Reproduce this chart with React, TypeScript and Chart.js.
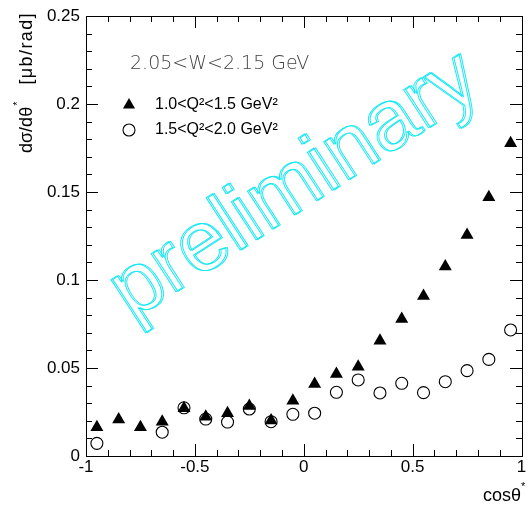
import React, { useEffect, useRef } from "react";
import { Chart, registerables } from "chart.js";

Chart.register(...registerables);

const cosTheta = [-0.95, -0.85, -0.75, -0.65, -0.55, -0.45, -0.35, -0.25, -0.15, -0.05, 0.05, 0.15, 0.25, 0.35, 0.45, 0.55, 0.65, 0.75, 0.85, 0.95];
const lowQ2 = [0.0163, 0.0208, 0.0163, 0.0195, 0.0271, 0.0223, 0.0243, 0.0284, 0.0201, 0.0314, 0.0409, 0.0466, 0.0507, 0.0655, 0.0778, 0.0909, 0.1076, 0.1256, 0.147, 0.1777];
const highQ2: (number | null)[] = [0.0072, null, null, 0.0135, 0.0274, 0.021, 0.0193, 0.0267, 0.0195, 0.0237, 0.0243, 0.0362, 0.0432, 0.0358, 0.0413, 0.036, 0.0422, 0.0485, 0.0549, 0.0716];
const xMajorTicks = [-1, -0.5, 0, 0.5, 1];
const yMajorTicks = [0, 0.05, 0.1, 0.15, 0.2, 0.25];
const legendLabels = ["1.0<Q²<1.5 GeV²", "1.5<Q²<2.0 GeV²"];
const wLabel = "2.05<W<2.15 GeV";
const watermark = "preliminary";

const FONT = "'Liberation Sans', Arial, Helvetica, sans-serif";

function drawFrame(chart: any) {
  const ctx = chart.ctx;
  const xs = chart.scales.x;
  const ys = chart.scales.y;
  const L = Math.round(xs.getPixelForValue(-1));
  const R = Math.round(xs.getPixelForValue(1));
  const T = Math.round(ys.getPixelForValue(0.25));
  const B = Math.round(ys.getPixelForValue(0));
  ctx.save();
  ctx.globalCompositeOperation = "source-over";
  ctx.globalAlpha = 1;
  ctx.setLineDash([]);
  ctx.strokeStyle = "#000";
  ctx.lineWidth = 1;
  ctx.beginPath();
  ctx.rect(L + 0.5, T + 0.5, R - L, B - T);
  for (let i = -10; i <= 10; i++) {
    const px = Math.round(xs.getPixelForValue(i / 10)) + 0.5;
    const len = i % 5 === 0 ? 12 : 6;
    ctx.moveTo(px, B);
    ctx.lineTo(px, B - len);
    ctx.moveTo(px, T);
    ctx.lineTo(px, T + len);
  }
  for (let i = 0; i <= 25; i++) {
    const py = Math.round(ys.getPixelForValue(i / 100)) + 0.5;
    const len = i % 5 === 0 ? 12 : 6;
    ctx.moveTo(L, py);
    ctx.lineTo(L + len, py);
    ctx.moveTo(R, py);
    ctx.lineTo(R - len, py);
  }
  ctx.stroke();
  ctx.restore();
}

const decorPlugin = {
  id: "decor",
  beforeDatasetsDraw(chart: any) {
    const ctx = chart.ctx;
    ctx.save();
    ctx.setLineDash([]);
    ctx.translate(131, 321);
    ctx.rotate((-33 * Math.PI) / 180);
    ctx.font = `86px ${FONT}`;
    ctx.strokeStyle = "#10e8f2";
    ctx.lineWidth = 0.9;
    ctx.textBaseline = "alphabetic";
    ctx.textAlign = "left";
    ctx.strokeText(watermark, 0, 0);
    ctx.strokeText(watermark, 1.6, 0.8);
    ctx.restore();
  },
  afterDatasetsDraw(chart: any) {
    drawFrame(chart);
  },
  afterDraw(chart: any) {
    const ctx = chart.ctx;
    drawFrame(chart);
    ctx.save();

    // W label
    ctx.fillStyle = "#444";
    ctx.font = `200 19px 'DejaVu Sans', ${FONT}`;
    ctx.textBaseline = "middle";
    ctx.textAlign = "left";
    ctx.fillText(wLabel, 130, 64);

    // legend
    ctx.fillStyle = "#000";
    ctx.strokeStyle = "#000";
    ctx.setLineDash([]);
    ctx.font = `16px ${FONT}`;
    const ly = [105, 130];
    const tx = 129, ty = ly[0], r = 7;
    ctx.beginPath();
    ctx.moveTo(tx, ty - r);
    ctx.lineTo(tx + r * 0.866, ty + r * 0.5);
    ctx.lineTo(tx - r * 0.866, ty + r * 0.5);
    ctx.closePath();
    ctx.fill();
    ctx.beginPath();
    ctx.arc(129, ly[1], 6, 0, Math.PI * 2);
    ctx.lineWidth = 1.1;
    ctx.stroke();
    ctx.fillText(legendLabels[0], 155, ly[0]);
    ctx.fillText(legendLabels[1], 155, ly[1]);

    // x axis title
    ctx.textBaseline = "alphabetic";
    ctx.font = `18px ${FONT}`;
    ctx.textAlign = "right";
    ctx.fillText("cosθ", 521, 501);
    ctx.font = `11px ${FONT}`;
    ctx.textAlign = "left";
    ctx.fillText("*", 521, 490);

    // y axis title
    ctx.save();
    ctx.translate(32, 153);
    ctx.rotate(-Math.PI / 2);
    ctx.font = `18px ${FONT}`;
    ctx.textAlign = "left";
    ctx.fillText("dσ/dθ", 0, 0);
    const w1 = ctx.measureText("dσ/dθ").width;
    ctx.font = `11px ${FONT}`;
    ctx.fillText("*", w1 + 1, -11);
    ctx.font = `18px ${FONT}`;
    (ctx as any).letterSpacing = "1.4px";
    ctx.textAlign = "right";
    ctx.fillText("[μb/rad]", 141, 0);
    (ctx as any).letterSpacing = "0px";
    ctx.restore();

    ctx.restore();
  },
};

export default function App() {
  const ref = useRef<HTMLCanvasElement>(null);
  useEffect(() => {
    document.body.style.margin = "0";
    const chart = new Chart(ref.current as HTMLCanvasElement, {
      type: "scatter",
      data: {
        datasets: [
          {
            label: legendLabels[0],
            data: cosTheta.map((x, i) => ({ x, y: lowQ2[i] })),
            pointStyle: "triangle",
            pointRadius: 7.5,
            backgroundColor: "#000",
            borderColor: "#000",
            borderWidth: 0,
          },
          {
            label: legendLabels[1],
            data: cosTheta
              .map((x, i) => ({ x, y: highQ2[i] }))
              .filter((p) => p.y !== null) as any,
            pointStyle: "circle",
            pointRadius: 6,
            backgroundColor: "rgba(0,0,0,0)",
            borderColor: "#000",
            borderWidth: 1.1,
          },
        ],
      },
      options: {
        animation: false,
        responsive: false,
        events: [],
        layout: { padding: { top: 16, right: 2, left: 0, bottom: 0 } },
        plugins: { legend: { display: false }, tooltip: { enabled: false } },
        scales: {
          x: {
            type: "linear",
            min: -1,
            max: 1,
            afterBuildTicks: (s: any) => {
              s.ticks = xMajorTicks.map((v) => ({ value: v }));
            },
            afterFit: (s: any) => {
              s.height = 52;
              s.paddingLeft = 0;
              s.paddingRight = 0;
            },
            ticks: {
              autoSkip: false,
              maxRotation: 0,
              padding: 1,
              color: "#000",
              font: { family: FONT, size: 17 },
              callback: (v: any) => String(Number(Number(v).toFixed(2))),
            },
            grid: { display: false, drawTicks: false },
            border: { display: true, color: "#000", width: 1 },
          },
          y: {
            type: "linear",
            min: 0,
            max: 0.25,
            afterBuildTicks: (s: any) => {
              s.ticks = yMajorTicks.map((v) => ({ value: v }));
            },
            afterFit: (s: any) => {
              s.width = 86;
              s.paddingTop = 0;
              s.paddingBottom = 0;
            },
            ticks: {
              autoSkip: false,
              padding: 6,
              color: "#000",
              font: { family: FONT, size: 17 },
              callback: (v: any) => String(Number(Number(v).toFixed(2))),
            },
            grid: { display: false, drawTicks: false },
            border: { display: true, color: "#000", width: 1 },
          },
        },
      },
      plugins: [decorPlugin],
    } as any);
    return () => chart.destroy();
  }, []);
  return (
    <div style={{ position: "fixed", left: 0, top: 0, width: 529, height: 508, background: "#fff" }}>
      <canvas ref={ref} width={529} height={508} style={{ width: 529, height: 508 }} />
    </div>
  );
}
